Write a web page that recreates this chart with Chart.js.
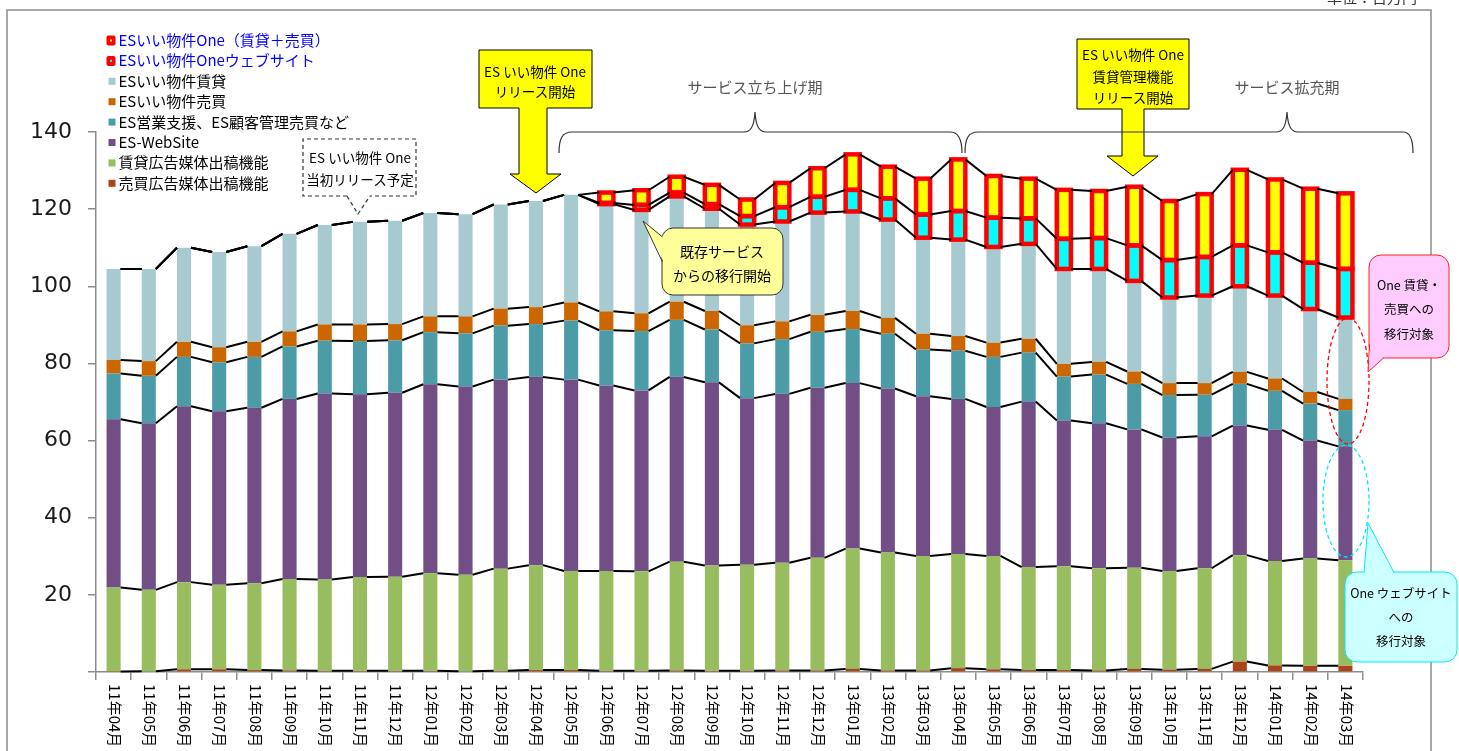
<!DOCTYPE html>
<html><head><meta charset="utf-8">
<script src="https://cdn.jsdelivr.net/npm/chart.js@4.4.1/dist/chart.umd.min.js"></script>
<style>
html,body{margin:0;padding:0;background:#fff;overflow:hidden;}
#wrap{position:relative;width:1459px;height:751px;}
#c{position:absolute;left:0;top:0;}
#ov{position:absolute;left:0;top:0;}
#ov text{font-family:"Noto Sans CJK JP","Noto Sans",sans-serif;}
</style></head>
<body><div id="wrap"><canvas id="c" width="1459" height="751"></canvas>
<svg id="ov" width="1459" height="751" xmlns="http://www.w3.org/2000/svg"></svg></div>
<script>
const months = ['11年04月','11年05月','11年06月','11年07月','11年08月','11年09月','11年10月','11年11月','11年12月','12年01月','12年02月','12年03月','12年04月','12年05月','12年06月','12年07月','12年08月','12年09月','12年10月','12年11月','12年12月','13年01月','13年02月','13年03月','13年04月','13年05月','13年06月','13年07月','13年08月','13年09月','13年10月','13年11月','13年12月','14年01月','14年02月','14年03月'];
const yTicks = [20,40,60,80,100,120,140];
const baibaiKokoku = [0.1,0.2,0.7,0.7,0.5,0.4,0.3,0.3,0.3,0.3,0.2,0.3,0.5,0.5,0.3,0.3,0.4,0.3,0.3,0.4,0.4,0.8,0.4,0.4,1.0,0.7,0.5,0.5,0.4,0.8,0.6,0.8,2.7,1.7,1.6,1.6];
const chintaiKokoku = [21.8,21.1,22.6,21.9,22.5,23.7,23.7,24.3,24.4,25.3,25.0,26.5,27.2,25.7,25.9,25.8,28.2,27.3,27.5,27.9,29.2,31.2,30.6,29.7,29.6,29.4,26.7,26.9,26.5,26.2,25.6,26.1,27.6,27.1,27.8,27.4];
const esWebSite = [43.6,43.2,45.6,45.0,45.5,46.7,48.2,47.4,47.7,49.0,48.8,49.0,48.8,49.6,48.1,46.9,47.9,47.5,43.2,43.8,44.1,42.9,42.5,41.4,40.2,38.6,42.9,37.8,37.6,35.9,34.6,34.2,33.6,34.0,30.6,29.5];
const esEigyo = [11.9,12.3,12.8,12.7,13.2,13.6,13.7,13.8,13.6,13.5,13.8,14.0,13.7,15.3,14.3,15.4,14.8,13.7,14.2,14.2,14.5,14.0,14.2,12.1,12.5,13.0,12.7,11.4,12.6,11.8,11.0,10.8,10.8,10.1,9.6,9.4];
const iiBaibai = [3.5,3.8,3.9,3.9,3.9,3.9,4.2,4.3,4.2,4.1,4.4,4.4,4.4,4.7,4.9,4.6,4.7,4.8,4.7,4.6,4.4,4.7,4.1,4.1,3.8,3.7,3.6,3.3,3.3,3.2,3.1,3.0,3.1,3.2,3.0,2.9];
const iiChintai = [23.6,23.9,24.4,24.7,24.8,25.3,25.8,26.6,26.8,26.8,26.5,27.0,27.5,27.9,27.8,26.8,27.3,26.5,26.1,25.9,26.5,25.8,25.5,24.9,25.0,24.8,24.6,24.6,24.1,23.5,22.2,22.7,22.2,21.5,21.5,21.1];
const oneWeb = [0,0,0,0,0,0,0,0,0,0,0,0,0,0,0.3,1.3,1.0,1.2,2.2,3.7,4.1,5.6,5.5,6.0,7.4,7.6,6.6,7.8,8.0,9.2,9.7,10.0,10.6,11.2,12.0,12.6];
const oneMain = [0,0,0,0,0,0,0,0,0,0,0,0,0,0,2.7,3.8,4.1,5.0,4.3,6.3,7.4,9.2,8.2,9.3,13.4,10.8,10.3,12.7,12.2,15.2,15.3,16.3,19.6,18.9,19.2,19.6];

const seriesLabels = ['売買広告媒体出稿機能','賃貸広告媒体出稿機能','ES-WebSite','ES営業支援、ES顧客管理売買など','ESいい物件売買','ESいい物件賃貸','ESいい物件Oneウェブサイト','ESいい物件One（賃貸＋売買）'];
const seriesData = [baibaiKokoku, chintaiKokoku, esWebSite, esEigyo, iiBaibai, iiChintai, oneWeb, oneMain];
const seriesColors = ['#A9441B','#97BD5F','#714F86','#4B9CA7','#CC6600','#A7CAD0','#00FFFF','#FFFF00'];
const outlined = [false,false,false,false,false,false,true,true];

Chart.defaults.font.family = '"DejaVu Sans", sans-serif';

const datasets = seriesData.map((d,i)=>({
  label: seriesLabels[i], data: d, backgroundColor: seriesColors[i],
  borderWidth: 0, barPercentage: 0.4, categoryPercentage: 1.0, stack: 's'
}));

function cumAt(chart, di, i){
  let s = 0;
  for(let k=0;k<=di;k++) s += chart.data.datasets[k].data[i];
  return s;
}

const linesPlugin = {
  id: 'lines',
  afterDatasetsDraw(chart){
    const ctx = chart.ctx;
    const xs = chart.scales.x, ys = chart.scales.y;
    ctx.save();
    ctx.strokeStyle = '#FF0000'; ctx.lineWidth = 4.5;
    chart.data.datasets.forEach((ds,di)=>{
      if(!outlined[di]) return;
      const meta = chart.getDatasetMeta(di);
      meta.data.forEach((el,i)=>{
        if(!(ds.data[i] > 0)) return;
        const p = el.getProps(['x','y','base','width'], true);
        ctx.strokeRect(p.x - p.width/2, p.y, p.width, p.base - p.y);
      });
    });
    ctx.restore();
    ctx.save();
    ctx.strokeStyle = '#000'; ctx.lineWidth = 2; ctx.lineCap = 'butt';
    const n = months.length;
    chart.data.datasets.forEach((ds,di)=>{
      const meta = chart.getDatasetMeta(di);
      ctx.beginPath();
      for(let i=0;i<n-1;i++){
        const w = meta.data[i].width;
        const x1 = xs.getPixelForValue(i) + w/2, x2 = xs.getPixelForValue(i+1) - w/2;
        ctx.moveTo(x1, ys.getPixelForValue(cumAt(chart, di, i)));
        ctx.lineTo(x2, ys.getPixelForValue(cumAt(chart, di, i+1)));
      }
      ctx.stroke();
    });
    ctx.restore();
  },
  afterDraw(chart){
    const ctx = chart.ctx, xs = chart.scales.x;
    ctx.save();
    ctx.font = '15px "Noto Sans CJK JP"';
    ctx.fillStyle = '#000'; ctx.textAlign = 'left'; ctx.textBaseline = 'middle';
    months.forEach((m,i)=>{
      ctx.save();
      ctx.translate(xs.getPixelForValue(i)+1, 684);
      ctx.rotate(Math.PI/2);
      ctx.fillText(m, 0, 0);
      ctx.restore();
    });
    ctx.restore();
  }
};

new Chart(document.getElementById('c'), {
  type: 'bar',
  data: { labels: months, datasets },
  options: {
    responsive: false, animation: false, devicePixelRatio: 1,
    layout: { padding: { left: 6, right: 96, top: 132, bottom: 0 } },
    plugins: { legend: { display: false }, tooltip: { enabled: false } },
    scales: {
      x: { stacked: true,
        grid: { display: true, drawOnChartArea: false, drawTicks: true, tickLength: 8, offset: true, color: '#8c8c8c', lineWidth: 1.5 },
        border: { display: true, color: '#8c8c8c', width: 1.5 },
        ticks: { display: false },
        afterFit(s){ s.height = 79; } },
      y: { stacked: true, min: 0, max: 140,
        grid: { display: true, drawOnChartArea: false, drawTicks: true, tickLength: 8, color: '#8c8c8c', lineWidth: 1.5 },
        border: { display: true, color: '#8c8c8c', width: 1.5 },
        afterBuildTicks(s){ s.ticks = [0].concat(yTicks).map(v=>({value:v})); },
        ticks: { padding: 16, color: '#1a1a1a', font: { size: 22 }, callback: v => v === 0 ? '' : v },
        afterFit(s){ s.width = 90; } }
    }
  },
  plugins: [linesPlugin]
});

// ---------- overlay (legend & annotations) ----------
const NS = 'http://www.w3.org/2000/svg';
const ov = document.getElementById('ov');
function el(tag, attrs, txt){ const e = document.createElementNS(NS, tag); for(const k in attrs) e.setAttribute(k, attrs[k]); if(txt!==undefined) e.textContent = txt; ov.appendChild(e); return e; }

el('path',{d:'M7,751 V10 H1431 V751', stroke:'#8c8c8c', 'stroke-width':1.5, fill:'none'});
el('text',{x:1372, y:3, 'font-size':15, 'text-anchor':'middle', fill:'#333'}, '単位：百万円');

const legendOrder = [7,6,5,4,3,2,1,0];
legendOrder.forEach((di,k)=>{
  const cy = 40.5 + k*20.4;
  if(outlined[di]){
    el('rect',{x:106.5, y:cy-5, width:9, height:10, rx:2, fill:'#FF0000'});
    el('rect',{x:110, y:cy-1, width:2, height:2, fill:seriesColors[di]});
  } else {
    el('rect',{x:108.5, y:cy-3.5, width:7, height:7, fill:seriesColors[di]});
  }
  el('text',{x:118.5, y:cy+5.5, 'font-size':15, fill: outlined[di] ? '#0000FF' : '#000'}, seriesLabels[di]);
});

el('path',{d:'M347,196 H303 V139 H416 V196 H370', stroke:'#333', 'stroke-width':1.2, 'stroke-dasharray':'4,3', fill:'#fff'});
el('path',{d:'M347,196 L358,214 L370,196', stroke:'#333', 'stroke-width':1.2, 'stroke-dasharray':'4,3', fill:'none'});
el('text',{x:360, y:163, 'font-size':13.5, 'text-anchor':'middle', fill:'#000'}, 'ES いい物件 One');
el('text',{x:360, y:185, 'font-size':13.5, 'text-anchor':'middle', fill:'#000'}, '当初リリース予定');

el('path',{d:'M479,50 H592 V108 H547 V174 H561 L536,193 L510,174 H519 V108 H479 Z', fill:'#FFFF00', stroke:'#000', 'stroke-width':1});
el('text',{x:535, y:76.5, 'font-size':13.5, 'text-anchor':'middle', fill:'#000'}, 'ES いい物件 One');
el('text',{x:535, y:96.5, 'font-size':13.5, 'text-anchor':'middle', fill:'#000'}, 'リリース開始');

el('path',{d:'M1077,39 H1189 V109 H1144 V156 H1158 L1133,176 L1107,156 H1122 V109 H1077 Z', fill:'#FFFF00', stroke:'#000', 'stroke-width':1});
el('text',{x:1133, y:60, 'font-size':13.5, 'text-anchor':'middle', fill:'#000'}, 'ES いい物件 One');
el('text',{x:1133, y:81.5, 'font-size':13.5, 'text-anchor':'middle', fill:'#000'}, '賃貸管理機能');
el('text',{x:1133, y:103, 'font-size':13.5, 'text-anchor':'middle', fill:'#000'}, 'リリース開始');

el('path',{d:'M559,153 C559,139 562,132 572,132 H744 C750,132 754,128 755,112 C756,128 760,132 766,132 H950 C958,132 962,139 962,153', stroke:'#333', 'stroke-width':1.2, fill:'none'});
el('path',{d:'M965,153 C965,139 968,132 978,132 H1276 C1282,132 1286,128 1287,112 C1288,128 1292,132 1298,132 H1403 C1410,132 1413,139 1413,153', stroke:'#333', 'stroke-width':1.2, fill:'none'});
el('text',{x:755, y:93, 'font-size':15, 'text-anchor':'middle', fill:'#555'}, 'サービス立ち上げ期');
el('text',{x:1287, y:93, 'font-size':15, 'text-anchor':'middle', fill:'#555'}, 'サービス拡充期');

el('rect',{x:662, y:228, width:121, height:67, rx:11, fill:'#FFFF99', stroke:'#333', 'stroke-width':1});
el('polygon',{points:'664,237 643,221 664,262', fill:'#FFFF99'});
el('polyline',{points:'662.5,237 643,221 662.5,262', fill:'none', stroke:'#333', 'stroke-width':1});
el('text',{x:722, y:257, 'font-size':14, 'text-anchor':'middle', fill:'#000'}, '既存サービス');
el('text',{x:722, y:280.5, 'font-size':14, 'text-anchor':'middle', fill:'#000'}, 'からの移行開始');

el('ellipse',{cx:1348, cy:381, rx:21, ry:63, fill:'none', stroke:'#FF0000', 'stroke-width':1.3, 'stroke-dasharray':'4,3'});
el('ellipse',{cx:1346, cy:501, rx:23, ry:56, fill:'none', stroke:'#00E8FF', 'stroke-width':1.3, 'stroke-dasharray':'4,3'});

el('rect',{x:1369, y:255, width:80, height:103, rx:12, fill:'#FFCCFF', stroke:'#FF2020', 'stroke-width':1});
el('polygon',{points:'1371,344 1368,372 1386,356', fill:'#FFCCFF'});
el('polyline',{points:'1369.5,344 1368,372 1384,357.5', fill:'none', stroke:'#FF2020', 'stroke-width':1});
el('text',{x:1409, y:289.5, 'font-size':12.5, 'text-anchor':'middle', fill:'#000'}, 'One 賃貸・');
el('text',{x:1409, y:314, 'font-size':12.5, 'text-anchor':'middle', fill:'#000'}, '売買への');
el('text',{x:1409, y:338.5, 'font-size':12.5, 'text-anchor':'middle', fill:'#000'}, '移行対象');

el('rect',{x:1345, y:572, width:112, height:90, rx:12, fill:'#CCFFFF', stroke:'#00E8FF', 'stroke-width':1});
el('polygon',{points:'1364,574 1368,523 1394,574', fill:'#CCFFFF'});
el('polyline',{points:'1364,572.5 1368,523 1394,572.5', fill:'none', stroke:'#00E8FF', 'stroke-width':1});
el('text',{x:1401, y:597.5, 'font-size':12.5, 'text-anchor':'middle', fill:'#000'}, 'One ウェブサイト');
el('text',{x:1401, y:621.5, 'font-size':12.5, 'text-anchor':'middle', fill:'#000'}, 'への');
el('text',{x:1401, y:645.5, 'font-size':12.5, 'text-anchor':'middle', fill:'#000'}, '移行対象');
</script>
</body></html>
